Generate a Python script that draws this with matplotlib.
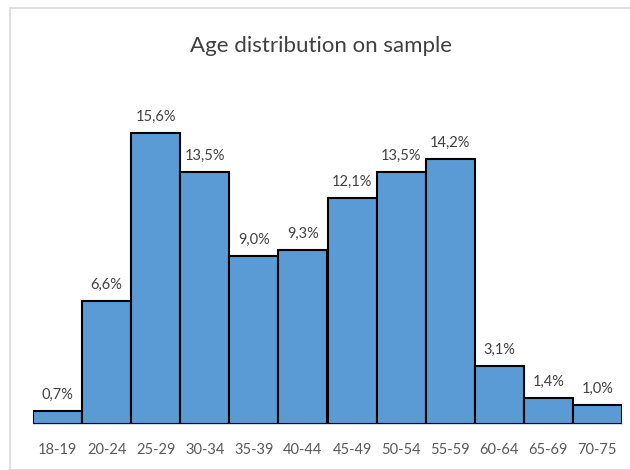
import matplotlib
matplotlib.use("Agg")
import matplotlib.pyplot as plt
from matplotlib.patches import Rectangle

categories = ["18-19", "20-24", "25-29", "30-34", "35-39", "40-44", "45-49",
              "50-54", "55-59", "60-64", "65-69", "70-75"]
values = [0.7, 6.6, 15.6, 13.5, 9.0, 9.3, 12.1, 13.5, 14.2, 3.1, 1.4, 1.0]

plt.rcParams['font.family'] = ['Lato', 'DejaVu Sans']

fig = plt.figure(figsize=(6.3, 4.7), dpi=100)
fig.patches.append(Rectangle((10/630, 0), 1, 1 - 8/470, transform=fig.transFigure,
                             fill=False, edgecolor='#d9d9d9', linewidth=1.2))
ax = fig.add_axes([33/630, 46/470, 589/630, 336/470])
x = range(len(categories))
ax.bar(x, values, width=1.0, color='#5b9bd5', edgecolor='black', linewidth=1.5)
for i, v in zip(x, values):
    ax.text(i, v + 0.5, f"{v:.1f}%".replace('.', ','), ha='center', va='bottom',
            fontsize=10.5, color='#404040')
ax.set_xlim(-0.5, len(categories) - 0.5)
ax.set_ylim(0, 18)
ax.set_xticks(list(x))
ax.set_xticklabels(categories, fontsize=10.5, color='#595959')
ax.tick_params(axis='x', length=0, pad=14)
ax.set_yticks([])
for s in ['top', 'left', 'right']:
    ax.spines[s].set_visible(False)
ax.spines['bottom'].set_color('#d9d9d9')
fig.text(0.51, 1 - 46/470, "Age distribution on sample", ha='center', va='center',
         fontsize=16, color='#404040')
fig.savefig("out.png", dpi=100)
